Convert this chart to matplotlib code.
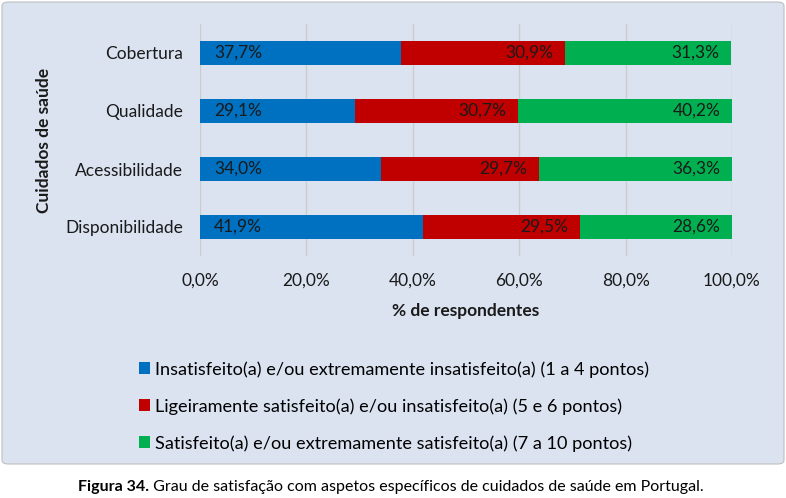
import matplotlib
matplotlib.use("Agg")
import matplotlib.pyplot as plt
from matplotlib.patches import FancyBboxPatch, Patch
import numpy as np

plt.rcParams['font.family'] = ['Lato', 'DejaVu Sans']

categories = ["Disponibilidade", "Acessibilidade", "Qualidade", "Cobertura"]
insatisfeito = [41.9, 34.0, 29.1, 37.7]
ligeiramente = [29.5, 29.7, 30.7, 30.9]
satisfeito = [28.6, 36.3, 40.2, 31.3]
series_names = ["Insatisfeito(a) e/ou extremamente insatisfeito(a) (1 a 4 pontos)",
                "Ligeiramente satisfeito(a) e/ou insatisfeito(a) (5 e 6 pontos)",
                "Satisfeito(a) e/ou extremamente satisfeito(a) (7 a 10 pontos)"]
xticks = [0, 20, 40, 60, 80, 100]
colors = ["#0070C0", "#C00000", "#00B050"]
bg = "#DBE3F1"

W, H = 786, 498
fig = plt.figure(figsize=(W/100, H/100), dpi=100)
fig.patch.set_facecolor("white")

# chart background box
box = FancyBboxPatch((2/W, 34/H), 782/W, 462/H, boxstyle="round,pad=0,rounding_size=0.008",
                     transform=fig.transFigure, facecolor=bg, edgecolor="#BFBFBF", lw=0.8, zorder=-5)
fig.patches.append(box)

ax = fig.add_axes([200/W, (H-256)/H, 532/W, 232/H])
ax.set_zorder(2)
ax.patch.set_alpha(0)
y = np.arange(len(categories))
h = 0.41
lefts = np.zeros(len(categories))
for i, (vals, c) in enumerate(zip([insatisfeito, ligeiramente, satisfeito], colors)):
    vals = np.array(vals)
    ax.barh(y, vals, left=lefts, height=h, color=c, zorder=3)
    for yi, l, v in zip(y, lefts, vals):
        lab = f"{v:.1f}%".replace(".", ",")
        if i == 0:
            ax.text(l + 2.6, yi, lab, ha="left", va="center", fontsize=12.5, color="#1a1a1a", zorder=4)
        else:
            ax.text(l + v - 2.2, yi, lab, ha="right", va="center", fontsize=12.5, color="#1a1a1a", zorder=4)
    lefts = lefts + vals

ax.set_xlim(0, 100)
ax.set_ylim(-0.5, 3.5)
ax.set_xticks(xticks)
ax.set_xticklabels([f"{t:.1f}%".replace(".", ",") for t in xticks], fontsize=12.5)
ax.set_yticks(y)
ax.set_yticklabels(categories, fontsize=12.5)
ax.tick_params(axis="both", length=0, colors="#1a1a1a")
ax.tick_params(axis="x", pad=12)
ax.tick_params(axis="y", pad=12)
ax.xaxis.grid(True, color="#CCCCCC", lw=1, zorder=0)
for s in ax.spines.values():
    s.set_visible(False)
ax.set_xlabel("% de respondentes", fontsize=12.5, fontweight="bold", labelpad=10, color="#1a1a1a")
ax.set_ylabel("Cuidados de saúde", fontsize=12.5, fontweight="bold", labelpad=10, color="#1a1a1a")

handles = [Patch(facecolor=c, edgecolor="none") for c in colors]
fig.legend(handles, series_names, loc="upper left", bbox_to_anchor=(130/W, (H-352)/H),
           frameon=False, fontsize=13.1, handlelength=0.6, handleheight=0.6,
           handletextpad=0.3, labelspacing=1.12, borderpad=0)

t1 = fig.text(78/W, 11/H, "Figura 34.", fontsize=11.5, fontweight="bold", ha="left", va="center")
fig.canvas.draw()
fig.text(0, 0, " Grau de satisfação com aspetos específicos de cuidados de saúde em Portugal.",
         fontsize=11.5, ha="left", va="center", transform=fig.transFigure)
r = fig.canvas.get_renderer()
bb = t1.get_window_extent(r)
fig.texts[-1].set_position((bb.x1/W, 11/H))

fig.savefig("out.png", dpi=100, facecolor="white")
